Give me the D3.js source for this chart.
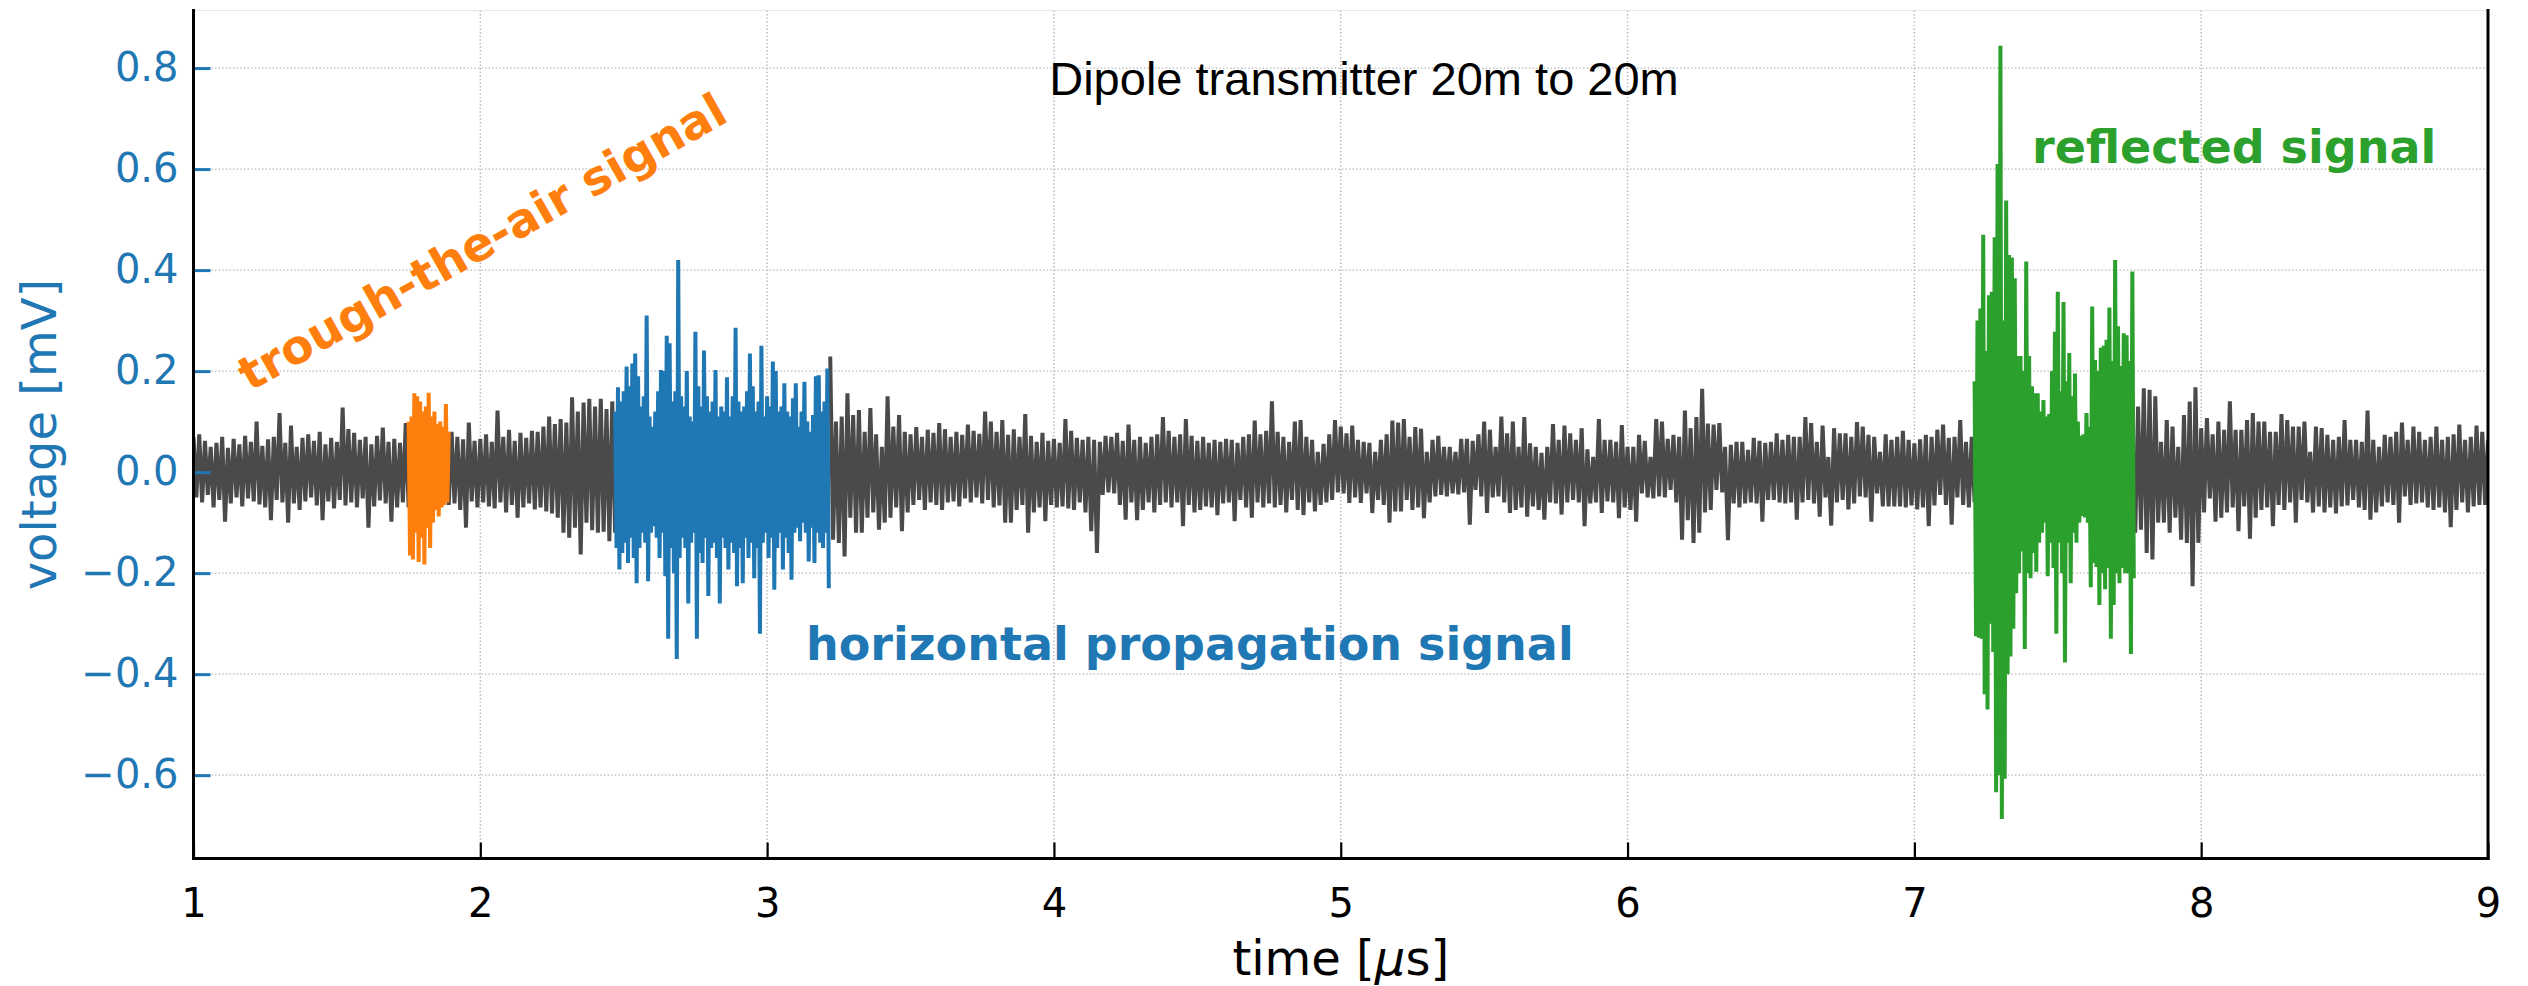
<!DOCTYPE html>
<html><head><meta charset="utf-8">
<script src="https://cdn.jsdelivr.net/npm/d3@7"></script>
<style>body{margin:0;background:#fff;} svg{display:block;}</style>
</head><body>
<svg id="chart" width="2528" height="986"></svg>
<script>
// ---------------- data ----------------
const timeStart = 1.0;     // µs, first sample of the full trace
const timeStep = 0.01;     // µs, sample spacing of the full trace
// full recorded trace, voltage [mV], one row = 0.2 µs (20 samples)
const voltage = [
 0.07,-0.05,0.075,-0.06,0.062,-0.045,0.05,-0.07,0.058,-0.055,0.07,-0.098,0.048,-0.062,0.066,-0.05,0.055,-0.068,0.072,-0.052,
 0.06,-0.058,0.10,-0.064,0.052,-0.07,0.065,-0.095,0.07,-0.055,0.117,-0.06,0.058,-0.10,0.092,-0.062,0.05,-0.075,0.068,-0.058,
 0.075,-0.05,0.062,-0.066,0.08,-0.095,0.055,-0.058,0.068,-0.072,0.06,-0.055,0.128,-0.066,0.085,-0.06,0.078,-0.07,0.064,-0.052,
 0.07,-0.11,0.055,-0.068,0.072,-0.056,0.088,-0.062,0.06,-0.098,0.066,-0.07,0.058,-0.06,0.097,-0.07,0.11,-0.172,0.156,-0.178,
 0.148,-0.183,0.157,-0.15,0.13,-0.10,0.12,-0.088,0.135,-0.065,0.08,-0.062,0.07,-0.075,0.065,-0.11,0.098,-0.058,0.062,-0.07,
 0.066,-0.06,0.075,-0.068,0.06,-0.072,0.122,-0.06,0.07,-0.08,0.084,-0.065,0.062,-0.09,0.078,-0.07,0.068,-0.062,0.082,-0.074,
 0.08,-0.07,0.09,-0.078,0.11,-0.082,0.095,-0.09,0.105,-0.12,0.098,-0.13,0.148,-0.11,0.12,-0.163,0.138,-0.10,0.145,-0.115,
 0.13,-0.12,0.145,-0.118,0.125,-0.137,0.14,-0.12,0.168,-0.16,0.21,-0.18,0.215,-0.17,0.235,-0.22,0.19,-0.15,0.31,-0.216,
 0.12,-0.107,0.202,-0.206,0.27,-0.33,0.255,-0.2,0.19,-0.37,0.42,-0.22,0.2,-0.26,0.15,-0.33,0.278,-0.18,0.241,-0.19,
 0.16,-0.245,0.202,-0.26,0.14,-0.17,0.188,-0.193,0.286,-0.15,0.17,-0.226,0.14,-0.18,0.235,-0.2,0.16,-0.32,0.25,-0.16,
 0.15,-0.17,0.215,-0.233,0.14,-0.193,0.176,-0.16,0.146,-0.213,0.13,-0.16,0.179,-0.137,0.113,-0.177,0.19,-0.18,0.192,-0.15,
 0.205,-0.23,0.229,-0.134,0.10,-0.14,0.11,-0.167,0.156,-0.09,0.113,-0.12,0.123,-0.12,0.08,-0.09,0.127,-0.08,0.075,-0.114,
 0.05,-0.1,0.15,-0.09,0.09,-0.07,0.113,-0.117,0.08,-0.08,0.075,-0.065,0.089,-0.055,0.07,-0.075,0.084,-0.06,0.078,-0.065,
 0.097,-0.075,0.085,-0.06,0.07,-0.058,0.08,-0.068,0.074,-0.052,0.094,-0.06,0.082,-0.05,0.076,-0.062,0.12,-0.055,0.1,-0.07,
 0.08,-0.066,0.103,-0.1,0.074,-0.1,0.085,-0.075,0.07,-0.065,0.115,-0.12,0.072,-0.08,0.06,-0.07,0.078,-0.097,0.062,-0.065,
 0.066,-0.07,0.058,-0.068,0.105,-0.072,0.082,-0.075,0.068,-0.06,0.064,-0.08,0.07,-0.117,0.064,-0.16,0.06,-0.045,0.072,-0.04,
 0.07,-0.042,0.078,-0.065,0.062,-0.094,0.094,-0.06,0.064,-0.095,0.07,-0.075,0.058,-0.06,0.07,-0.08,0.075,-0.065,0.109,-0.06,
 0.082,-0.07,0.07,-0.06,0.075,-0.107,0.105,-0.065,0.072,-0.08,0.062,-0.075,0.07,-0.068,0.058,-0.07,0.064,-0.085,0.06,-0.062,
 0.066,-0.06,0.064,-0.097,0.058,-0.055,0.07,-0.07,0.075,-0.09,0.102,-0.06,0.075,-0.07,0.082,-0.062,0.14,-0.07,0.08,-0.065,
 0.07,-0.08,0.06,-0.055,0.1,-0.075,0.103,-0.085,0.07,-0.06,0.064,-0.078,0.04,-0.065,0.056,-0.06,0.075,-0.055,0.103,-0.04,
 0.09,-0.042,0.077,-0.061,0.092,-0.05,0.064,-0.061,0.06,-0.042,0.058,-0.081,0.04,-0.055,0.064,-0.065,0.075,-0.1,0.102,-0.078,
 0.098,-0.078,0.105,-0.055,0.07,-0.075,0.089,-0.07,0.086,-0.091,0.04,-0.06,0.064,-0.048,0.072,-0.045,0.05,-0.048,0.05,-0.042,
 0.04,-0.044,0.066,-0.04,0.066,-0.104,0.062,-0.035,0.075,-0.048,0.1,-0.081,0.084,-0.05,0.05,-0.048,0.11,-0.06,0.077,-0.081,
 0.1,-0.075,0.05,-0.07,0.109,-0.088,0.057,-0.068,0.05,-0.075,0.038,-0.094,0.05,-0.06,0.095,-0.062,0.064,-0.084,0.092,-0.06,
 0.077,-0.055,0.064,-0.06,0.087,-0.107,0.045,-0.062,0.03,-0.06,0.105,-0.081,0.064,-0.058,0.064,-0.06,0.06,-0.091,0.093,-0.07,
 0.05,-0.075,0.05,-0.098,0.074,-0.042,0.062,-0.05,0.03,-0.052,0.105,-0.048,0.1,-0.05,0.066,-0.035,0.074,-0.06,0.07,-0.134,
 0.122,-0.095,0.087,-0.14,0.109,-0.12,0.165,-0.08,0.096,-0.075,0.094,-0.035,0.097,-0.04,0.05,-0.135,0.054,-0.062,0.06,-0.07,
 0.06,-0.062,0.044,-0.06,0.068,-0.062,0.062,-0.098,0.058,-0.055,0.06,-0.055,0.077,-0.06,0.064,-0.062,0.074,-0.06,0.07,-0.094,
 0.07,-0.06,0.109,-0.055,0.097,-0.062,0.06,-0.088,0.092,-0.05,0.03,-0.106,0.087,-0.06,0.077,-0.055,0.077,-0.074,0.07,-0.062,
 0.099,-0.048,0.09,-0.05,0.074,-0.098,0.07,-0.042,0.04,-0.068,0.075,-0.068,0.064,-0.068,0.07,-0.068,0.082,-0.07,0.064,-0.066,
 0.057,-0.074,0.065,-0.07,0.074,-0.107,0.07,-0.066,0.084,-0.045,0.094,-0.065,0.068,-0.104,0.07,-0.05,0.103,-0.065,0.06,-0.07,
 0.07,-0.06,0.30,-0.33,0.47,-0.44,0.357,-0.47,0.466,-0.634,0.844,-0.687,0.538,-0.607,0.43,-0.365,0.384,-0.24,0.23,-0.35,
 0.417,-0.21,0.23,-0.197,0.156,-0.2,0.115,-0.10,0.278,-0.19,0.357,-0.32,0.337,-0.377,0.236,-0.22,0.195,-0.14,0.075,-0.087,
 0.117,-0.19,0.328,-0.228,0.22,-0.263,0.25,-0.232,0.326,-0.33,0.42,-0.263,0.29,-0.22,0.276,-0.36,0.397,-0.12,0.13,-0.114,
 0.166,-0.16,0.163,-0.173,0.15,-0.1,0.06,-0.1,0.103,-0.12,0.09,-0.09,0.05,-0.134,0.113,-0.14,0.14,-0.226,0.168,-0.14,
 0.087,-0.08,0.107,-0.052,0.075,-0.098,0.1,-0.09,0.084,-0.08,0.14,-0.07,0.084,-0.117,0.084,-0.068,0.103,-0.132,0.117,-0.09,
 0.1,-0.075,0.10,-0.07,0.08,-0.107,0.08,-0.065,0.115,-0.075,0.103,-0.06,0.09,-0.1,0.09,-0.055,0.1,-0.06,0.04,-0.08,
 0.09,-0.068,0.087,-0.08,0.074,-0.07,0.064,-0.082,0.07,-0.068,0.103,-0.066,0.064,-0.055,0.064,-0.07,0.06,-0.075,0.122,-0.094,
 0.064,-0.08,0.05,-0.068,0.074,-0.06,0.07,-0.065,0.08,-0.1,0.098,-0.048,0.064,-0.065,0.09,-0.062,0.08,-0.06,0.064,-0.07,
 0.07,-0.075,0.09,-0.07,0.064,-0.08,0.07,-0.109,0.075,-0.075,0.094,-0.06,0.064,-0.08,0.07,-0.068,0.092,-0.065,0.08,-0.065,
 0.064
];

// highlighted windows, finer sampling (0.005 µs), voltage [mV]
const signalStep = 0.005;
const signalNames = ["trough-the-air signal", "horizontal propagation signal", "reflected signal"];
const signalStart = [1.75, 2.47, 7.21];
// through-the-air window, 1.750 - 1.890 µs
const airSignal = [
 0.10,-0.165,0.11,-0.173,0.156,-0.12,0.15,-0.178,0.14,-0.13,0.12,-0.183,0.13,-0.11,0.157,-0.15,0.11,-0.10,0.12,-0.075,
 0.095,-0.088,0.10,-0.07,0.09,-0.065,0.135,-0.06,0.08
];
// horizontal propagation window, 2.470 - 3.215 µs (row = 0.1 µs)
const directSignal = [
 0.12,-0.15,0.168,-0.193,0.14,-0.16,0.16,-0.14,0.209,-0.18,0.17,-0.13,0.215,-0.17,0.235,-0.22,0.19,-0.15,0.13,-0.12,
 0.15,-0.14,0.31,-0.216,0.11,-0.12,0.09,-0.107,0.12,-0.13,0.16,-0.17,0.202,-0.12,0.2,-0.206,0.27,-0.33,0.255,-0.15,
 0.14,-0.2,0.16,-0.37,0.42,-0.17,0.15,-0.13,0.13,-0.15,0.2,-0.26,0.11,-0.14,0.1,-0.12,0.278,-0.33,0.17,-0.16,
 0.13,-0.18,0.241,-0.13,0.15,-0.245,0.12,-0.15,0.14,-0.14,0.202,-0.17,0.11,-0.26,0.13,-0.13,0.12,-0.15,0.188,-0.193,
 0.11,-0.14,0.15,-0.16,0.286,-0.226,0.14,-0.15,0.12,-0.22,0.13,-0.13,0.16,-0.17,0.235,-0.14,0.17,-0.21,0.12,-0.15,
 0.14,-0.32,0.25,-0.14,0.11,-0.12,0.15,-0.17,0.13,-0.13,0.219,-0.233,0.2,-0.15,0.12,-0.12,0.13,-0.193,0.176,-0.13,
 0.12,-0.16,0.11,-0.213,0.146,-0.12,0.176,-0.11,0.09,-0.137,0.12,-0.1,0.179,-0.12,0.1,-0.177,0.08,-0.11,0.113,-0.18,
 0.19,-0.12,0.192,-0.14,0.12,-0.15,0.14,-0.12,0.205,-0.23
];
// reflected window, 7.210 - 7.765 µs (row = 0.1 µs)
const reflectedSignal = [
 0.18,-0.325,0.30,-0.328,0.324,-0.33,0.47,-0.44,0.24,-0.47,0.35,-0.3,0.357,-0.356,0.465,-0.634,0.61,-0.6,0.844,-0.687,
 0.30,-0.607,0.538,-0.4,0.43,-0.365,0.425,-0.31,0.384,-0.24,0.23,-0.2,0.23,-0.157,0.2,-0.35,0.417,-0.2,0.23,-0.21,
 0.17,-0.16,0.156,-0.197,0.156,-0.14,0.12,-0.12,0.143,-0.10,0.11,-0.206,0.115,-0.14,0.2,-0.19,0.278,-0.32,0.357,-0.14,
 0.16,-0.2,0.337,-0.377,0.18,-0.14,0.236,-0.22,0.15,-0.12,0.195,-0.14,0.1,-0.1,0.072,-0.087,0.075,-0.09,0.117,-0.1,
 0.09,-0.228,0.328,-0.18,0.222,-0.188,0.2,-0.263,0.246,-0.2,0.25,-0.232,0.262,-0.19,0.326,-0.33,0.22,-0.263,0.42,-0.2,
 0.289,-0.22,0.21,-0.19,0.275,-0.2,0.271,-0.2,0.22,-0.36,0.397,-0.21
];
const signalData = [airSignal, directSignal, reflectedSignal];

const xTicks = [1, 2, 3, 4, 5, 6, 7, 8, 9];
const yTicks = [-0.6, -0.4, -0.2, 0.0, 0.2, 0.4, 0.6, 0.8];
const titleText = "Dipole transmitter 20m to 20m";

// ---------------- style ----------------
const signalColors = ["#ff7f0e", "#1f77b4", "#2ca02c"];
const noiseColor = "#4a4a4a";
const axisBlue = "#1f77b4";
const FONT = "'DejaVu Sans', sans-serif";
const LW = 4.0;

const svg = d3.select("#chart");
const M = {left: 193.5, right: 2488, top: 10.5, bottom: 858.5};
const x = d3.scaleLinear().domain([1, 9]).range([M.left, M.right]);
const y = d3.scaleLinear().domain([-0.765, 0.914]).range([M.bottom, M.top]);

svg.append("rect").attr("width", 2528).attr("height", 986).attr("fill", "#fff");

// grid
const grid = svg.append("g").attr("stroke", "#b4b4b4").attr("stroke-width", 1.4)
  .attr("stroke-dasharray", "1.4,2.2");
grid.selectAll(".gx").data(xTicks).join("line")
  .attr("x1", d => x(d)).attr("x2", d => x(d)).attr("y1", M.top).attr("y2", M.bottom);
grid.selectAll(".gy").data(yTicks).join("line")
  .attr("y1", d => y(d)).attr("y2", d => y(d)).attr("x1", M.left).attr("x2", M.right);

// clip
svg.append("clipPath").attr("id", "plotclip").append("rect")
  .attr("x", M.left).attr("y", M.top).attr("width", M.right - M.left).attr("height", M.bottom - M.top);

// windows covered by the coloured signals
const windows = signalData.map((arr, k) => [signalStart[k], signalStart[k] + (arr.length - 1) * signalStep]);
const insideWindow = t => windows.some(([s, e]) => t > s + 1e-9 && t < e - 1e-9);

const line = d3.line().x(d => x(d[0])).y(d => y(d[1]));
const plot = svg.append("g").attr("clip-path", "url(#plotclip)");
const pts = voltage.map((v, i) => [timeStart + i * timeStep, v]);
plot.append("path").datum(pts)
  .attr("d", d3.line().defined(d => !insideWindow(d[0])).x(d => x(d[0])).y(d => y(d[1])))
  .attr("fill", "none").attr("stroke", noiseColor).attr("stroke-width", LW)
  .attr("stroke-linejoin", "bevel");
signalData.forEach((arr, k) => {
  const sp = arr.map((v, i) => [signalStart[k] + i * signalStep, v]);
  plot.append("path").datum(sp).attr("d", line)
    .attr("fill", "none").attr("stroke", signalColors[k]).attr("stroke-width", LW)
    .attr("stroke-linejoin", "bevel");
});

// axes
const yAxis = d3.axisLeft(y).tickValues(yTicks).tickFormat(d3.format(".1f"))
  .tickSize(-17).tickPadding(15);
const gy = svg.append("g").attr("transform", `translate(${M.left},0)`).call(yAxis);
gy.select(".domain").remove();
gy.selectAll(".tick line").attr("stroke", axisBlue).attr("stroke-width", 3);
gy.selectAll(".tick text").attr("fill", axisBlue).attr("font-family", FONT).attr("font-size", 40);

const xAxis = d3.axisBottom(x).tickValues(xTicks).tickFormat(d3.format("d"))
  .tickSize(-16).tickPadding(30);
const gx = svg.append("g").attr("transform", `translate(0,${M.bottom})`).call(xAxis);
gx.select(".domain").remove();
gx.selectAll(".tick line").attr("stroke", "#000").attr("stroke-width", 2.2);
gx.selectAll(".tick text").attr("fill", "#000").attr("font-family", FONT).attr("font-size", 40);

// spines
svg.append("line").attr("x1", M.left).attr("x2", M.right).attr("y1", M.top).attr("y2", M.top)
  .attr("stroke", "#e6e6e6").attr("stroke-width", 1.2);
const spn = svg.append("g").attr("stroke", "#000").attr("stroke-width", 3).attr("stroke-linecap", "square");
spn.append("line").attr("x1", M.left).attr("x2", M.left).attr("y1", M.top).attr("y2", M.bottom);
spn.append("line").attr("x1", M.right).attr("x2", M.right).attr("y1", M.top).attr("y2", M.bottom);
spn.append("line").attr("x1", M.left).attr("x2", M.right).attr("y1", M.bottom).attr("y2", M.bottom);

// axis labels
svg.append("text").attr("transform", `translate(56,${(M.top + M.bottom) / 2}) rotate(-90)`)
  .attr("text-anchor", "middle").attr("font-family", FONT).attr("font-size", 48)
  .attr("fill", axisBlue).text("voltage [mV]");
const xl = svg.append("text").attr("x", (M.left + M.right) / 2).attr("y", 975)
  .attr("text-anchor", "middle").attr("font-family", FONT).attr("font-size", 48).attr("fill", "#000");
xl.append("tspan").text("time [");
xl.append("tspan").attr("font-style", "italic").text("\u03bc");
xl.append("tspan").text("s]");

// title text inside plot
svg.append("text").attr("x", 1364).attr("y", 95).attr("text-anchor", "middle")
  .attr("font-family", "'Liberation Sans', Arial, sans-serif").attr("font-size", 47)
  .attr("fill", "#000").text(titleText);

// annotations
const annot = svg.append("g").attr("font-family", FONT).attr("font-weight", "bold").attr("font-size", 47);
annot.append("text").attr("transform", "translate(250,392) rotate(-29.5)")
  .attr("fill", signalColors[0]).text(signalNames[0]);
annot.append("text").attr("x", 806).attr("y", 660).attr("font-size", 46)
  .attr("fill", signalColors[1]).text(signalNames[1]);
annot.append("text").attr("x", 2032).attr("y", 163).attr("font-size", 46)
  .attr("fill", signalColors[2]).text(signalNames[2]);
</script>
</body></html>
